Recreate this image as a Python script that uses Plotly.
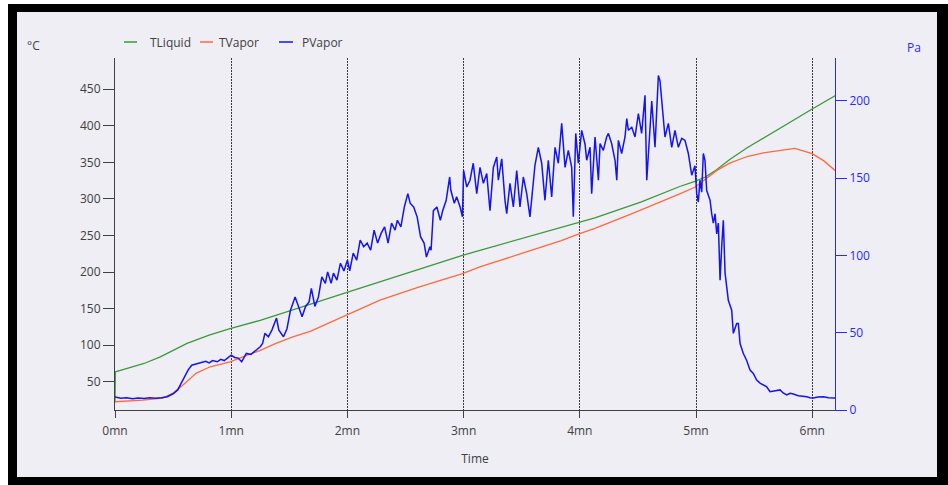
import plotly.graph_objects as go

# ---------------- data (time in minutes) ----------------
tick_vals = [0, 1, 2, 3, 4, 5, 6]
tick_text = ["0mn", "1mn", "2mn", "3mn", "4mn", "5mn", "6mn"]

t_liquid = [0.0, 0.003, 0.12, 0.25, 0.39, 0.5, 0.62, 0.81, 0.99, 1.25, 1.53, 1.79, 2.01, 2.5,
            2.99, 3.14, 3.5, 4.0, 4.13, 4.53, 4.86, 4.99, 5.08, 5.16, 5.29, 5.44, 5.72, 6.0, 6.196]
tliquid = [22, 63.6, 69, 75, 84, 93, 102.4, 113.7, 122.8, 134, 147.8, 161.5, 172.8, 198,
           222.8, 229.7, 246, 268, 274, 296, 317, 324, 330, 338, 354, 370, 397, 423, 441]

t_vapor = [0.0, 0.24, 0.41, 0.5, 0.585, 0.70, 0.82, 0.99, 1.10, 1.25, 1.39, 1.53, 1.68, 1.82,
           2.01, 2.28, 2.62, 2.99, 3.14, 3.5, 3.84, 4.0, 4.13, 4.45, 4.73, 4.86, 4.99, 5.08,
           5.18, 5.29, 5.44, 5.58, 5.72, 5.85, 6.0, 6.1, 6.196]
tvapor = [22.7, 25, 27.8, 34.6, 45.5, 61.9, 70.5, 77.3, 84, 93, 102.8, 111.4, 119, 129,
          143, 161.5, 179.6, 197.9, 207, 225, 243, 252.5, 259.7, 280, 298, 307, 316, 327,
          339, 349, 358, 363, 366, 369, 362, 352, 339]

t_press = [0.00, 0.05, 0.10, 0.15, 0.20, 0.25, 0.30, 0.35, 0.40, 0.45, 0.50, 0.54, 0.57, 0.60,
           0.63, 0.66, 0.70, 0.75, 0.78, 0.81, 0.84, 0.88, 0.91, 0.94, 0.97, 1.00, 1.03, 1.06,
           1.09, 1.13, 1.17, 1.22, 1.25, 1.27, 1.29, 1.32, 1.35, 1.39, 1.41, 1.45, 1.48, 1.51,
           1.55, 1.58, 1.61, 1.64, 1.67, 1.69, 1.72, 1.75, 1.78, 1.81, 1.83, 1.86, 1.88, 1.91,
           1.94, 1.97, 2.00, 2.02, 2.05, 2.08, 2.11, 2.14, 2.17, 2.20, 2.23, 2.26, 2.29, 2.32,
           2.35, 2.38, 2.41, 2.43, 2.46, 2.49, 2.52, 2.54, 2.57, 2.60, 2.63, 2.66, 2.68, 2.71,
           2.72, 2.74, 2.77, 2.80, 2.82, 2.85, 2.88, 2.89, 2.92, 2.94, 2.97, 2.99, 3.00, 3.027,
           3.055, 3.083, 3.113, 3.141, 3.170, 3.199, 3.227, 3.256, 3.285, 3.299, 3.328, 3.356,
           3.371, 3.399, 3.428, 3.457, 3.485, 3.514, 3.543, 3.571, 3.614, 3.643, 3.672, 3.700,
           3.729, 3.758, 3.787, 3.815, 3.844, 3.873, 3.901, 3.930, 3.944, 3.965, 3.987, 4.016,
           4.045, 4.059, 4.088, 4.102, 4.131, 4.160, 4.174, 4.202, 4.231, 4.246, 4.274, 4.303,
           4.318, 4.332, 4.360, 4.389, 4.404, 4.418, 4.447, 4.475, 4.504, 4.532, 4.561, 4.576,
           4.604, 4.619, 4.647, 4.676, 4.690, 4.719, 4.733, 4.762, 4.791, 4.819, 4.848, 4.877,
           4.905, 4.934, 4.963, 4.991, 5.006, 5.020, 5.034, 5.049, 5.063, 5.077, 5.092, 5.106,
           5.121, 5.135, 5.149, 5.164, 5.178, 5.192, 5.207, 5.221, 5.235, 5.250, 5.278, 5.307,
           5.321, 5.350, 5.364, 5.379, 5.407, 5.436, 5.465, 5.493, 5.522, 5.551, 5.580, 5.608,
           5.637, 5.680, 5.723, 5.750, 5.781, 5.810, 5.837, 5.880, 5.920, 5.953, 5.980, 6.009,
           6.050, 6.096, 6.140, 6.196]
pvapor = [8.4, 7.6, 7.9, 7.3, 7.8, 7.5, 7.9, 7.6, 8.0, 8.6, 10.5, 13.0, 17.4, 22.0,
          26.0, 29.0, 30.0, 30.8, 31.5, 30.5, 32.0, 31.2, 32.8, 32.0, 33.6, 35.5, 34.0, 33.6,
          31.2, 36.6, 36.0, 38.8, 40.9, 43.0, 49.6, 47.4, 51.7, 59.5, 51.7, 47.4, 52.6, 64.6,
          73.2, 66.8, 60.3, 67.0, 70.0, 78.7, 67.0, 73.0, 86.2, 82.0, 89.4, 82.0, 88.6, 84.0,
          95.0, 90.0, 97.0, 90.0, 101.5, 97.0, 110.0, 105.6, 108.0, 103.4, 116.4, 108.0, 114.3, 118.5,
          108.0, 121.0, 116.4, 122.8, 118.5, 131.4, 140.0, 133.8, 131.4, 125.0, 112.0, 108.0, 99.0, 105.6,
          103.4, 129.0, 131.4, 122.8, 129.0, 135.7, 150.8, 142.2, 133.8, 138.0, 131.4, 125.0, 155.0, 144.3,
          148.7, 159.7, 140.0, 157.0, 146.7, 153.0, 129.0, 157.0, 163.7, 148.7, 162.6, 135.7,
          127.0, 146.7, 131.4, 155.0, 131.4, 150.8, 140.0, 125.0, 158.4, 170.0, 159.7, 135.7,
          161.6, 137.9, 170.0, 159.7, 185.5, 157.0, 168.0, 157.0, 125.0, 179.0, 159.7, 181.0,
          172.0, 161.6, 170.0, 140.0, 176.7, 148.7, 172.4, 168.0, 176.7, 179.0, 172.4, 161.6,
          148.7, 174.5, 166.0, 176.7, 188.6, 181.0, 183.0, 176.7, 191.8, 179.0, 203.6, 148.7,
          183.0, 200.0, 170.0, 216.5, 213.0, 187.5, 176.7, 185.5, 170.0, 181.0, 170.0, 175.8,
          174.5, 166.0, 152.0, 158.0, 140.0, 134.6, 148.7, 141.0, 166.0, 161.6, 142.0, 139.0,
          135.7, 127.0, 121.0, 127.0, 114.0, 121.0, 84.0, 105.6, 122.8, 88.6, 71.0, 64.6,
          49.6, 56.0, 56.0, 43.0, 36.6, 32.0, 25.8, 23.7, 19.4, 17.4, 16.0, 15.0,
          11.8, 12.5, 13.0, 11.0, 9.7, 10.8, 10.4, 9.2, 9.0, 8.6, 8.0, 7.8,
          8.4, 8.6, 8.0, 7.8]

series_names = ["TLiquid", "TVapor", "PVapor"]
series_colors = ["#3a9a3a", "#ff6a3d", "#1414f0"]

# ---------------- geometry helpers (pixel -> paper) ----------------
W, H = 948, 485
L, R, T, B = 115, 835, 58, 410


def px(x):
    return (x - L) / (R - L)


def py(y):
    return (B - y) / (B - T)


BG = "#eeeef4"
AX = "#404040"
BLUE_AX = "#2a2aff"
FONT = "Open Sans, Noto Sans, sans-serif"

fig = go.Figure()
fig.add_trace(go.Scatter(x=t_liquid, y=tliquid, mode="lines", name=series_names[0],
                         line=dict(color=series_colors[0], width=1.3), showlegend=False))
fig.add_trace(go.Scatter(x=t_vapor, y=tvapor, mode="lines", name=series_names[1],
                         line=dict(color=series_colors[1], width=1.3), showlegend=False))
fig.add_trace(go.Scatter(x=t_press, y=pvapor, mode="lines", name=series_names[2], yaxis="y2",
                         line=dict(color=series_colors[2], width=1.5), showlegend=False))

shapes = []
annotations = []


def rect(x0, y0, x1, y1, color):
    shapes.append(dict(type="rect", xref="paper", yref="paper",
                       x0=px(x0), x1=px(x1), y0=py(y1), y1=py(y0),
                       fillcolor=color, line=dict(width=0), layer="above"))


# window frame
rect(0, 0, 8, H, "white")
rect(0, 0, W, 4, "white")
rect(8, 4, 17, H, "black")
rect(8, 4, W, 12, "black")
rect(937, 4, W, H, "black")
rect(8, 477, W, H, "black")

# compact legend (short line samples, as in the original)
leg_items = [(124, 137, 148), (200, 213, 217), (279, 293, 300)]
for (lx0, lx1, tx), name, col in zip(leg_items, series_names, series_colors):
    shapes.append(dict(type="line", xref="paper", yref="paper",
                       x0=px(lx0), x1=px(lx1), y0=py(42), y1=py(42),
                       line=dict(color=col, width=1.5)))
    annotations.append(dict(text=name, xref="paper", yref="paper", x=px(tx), y=py(42),
                            xanchor="left", yanchor="middle", showarrow=False,
                            font=dict(size=12, color=AX, family=FONT)))

annotations.append(dict(text="°C", xref="paper", yref="paper", x=px(33), y=py(46),
                        xanchor="center", yanchor="middle", showarrow=False,
                        font=dict(size=12, color=AX, family=FONT)))
annotations.append(dict(text="Pa", xref="paper", yref="paper", x=px(914), y=py(47),
                        xanchor="center", yanchor="middle", showarrow=False,
                        font=dict(size=12, color=BLUE_AX, family=FONT)))

fig.update_layout(
    width=W, height=H,
    margin=dict(l=L, r=W - R, t=T, b=H - B, pad=0),
    paper_bgcolor=BG, plot_bgcolor=BG,
    font=dict(family=FONT, size=12, color=AX),
    shapes=shapes, annotations=annotations,
    hovermode=False,
    xaxis=dict(range=[0, 6.196], tickvals=tick_vals, ticktext=tick_text,
               showline=True, linecolor=AX, linewidth=1,
               ticks="outside", ticklen=7, tickcolor=AX, tickwidth=1,
               ticklabelstandoff=3,
               showgrid=True, gridcolor="#3a3a3a", gridwidth=1, griddash="2px,1px",
               zeroline=False, tickfont=dict(size=12, color=AX),
               title=dict(text="Time", standoff=16, font=dict(size=12, color=AX))),
    yaxis=dict(range=[11.4, 492.7], tickvals=[50, 100, 150, 200, 250, 300, 350, 400, 450],
               showline=True, linecolor=AX, linewidth=1,
               ticks="outside", ticklen=11, tickcolor=AX,
               showgrid=False, zeroline=False, tickfont=dict(size=12, color=AX)),
    yaxis2=dict(range=[0, 227.8], tickvals=[0, 50, 100, 150, 200], overlaying="y", side="right",
                showline=True, linecolor=BLUE_AX, linewidth=1,
                ticks="outside", ticklen=11, tickcolor=BLUE_AX,
                showgrid=False, zeroline=False, tickfont=dict(size=12, color=BLUE_AX)),
)

fig.write_html("out.html", config={"displayModeBar": False},
               post_script="document.body.style.margin='0';document.body.style.overflow='hidden';")
